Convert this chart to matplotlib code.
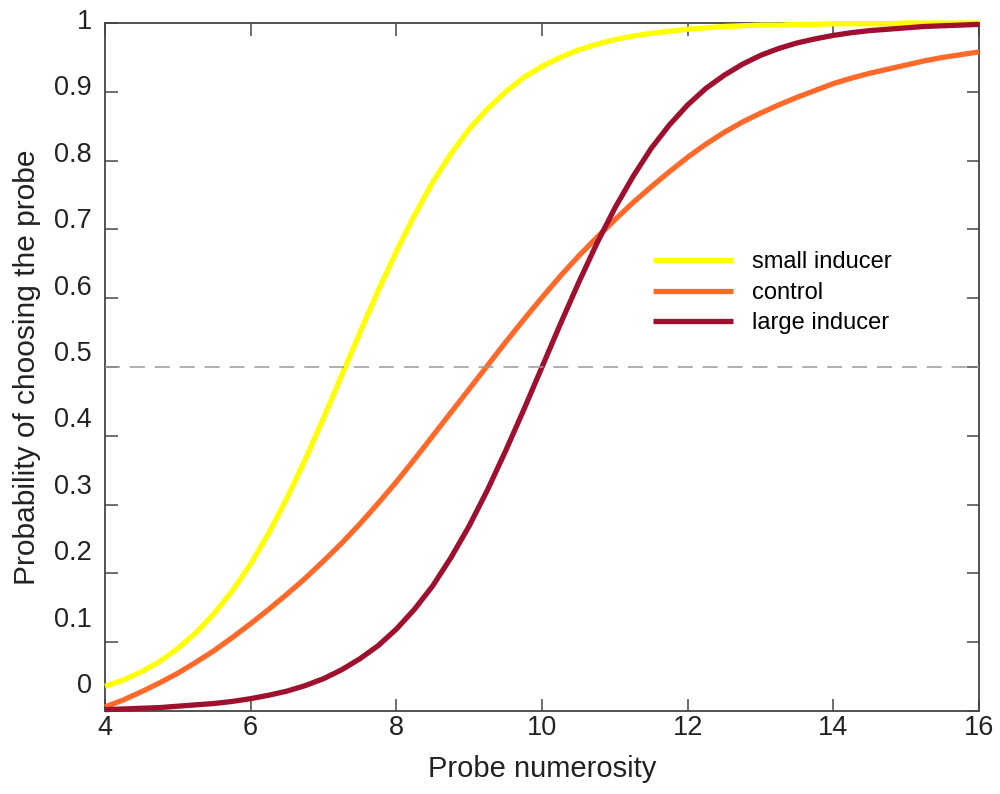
import matplotlib
matplotlib.use("Agg")
import matplotlib.pyplot as plt
import matplotlib.transforms as mtransforms

# probe numerosity sample points
numerosity = [4.0, 4.25, 4.5, 4.75, 5.0, 5.25, 5.5, 5.75, 6.0, 6.25, 6.5, 6.75,
              7.0, 7.25, 7.5, 7.75, 8.0, 8.25, 8.5, 8.75, 9.0, 9.25, 9.5, 9.75,
              10.0, 10.25, 10.5, 10.75, 11.0, 11.25, 11.5, 11.75, 12.0, 12.25,
              12.5, 12.75, 13.0, 13.25, 13.5, 13.75, 14.0, 14.25, 14.5, 14.75,
              15.0, 15.25, 15.5, 15.75, 16.0]

# probability of choosing the probe
small_inducer = [0.036, 0.045, 0.057, 0.072, 0.091, 0.114, 0.142, 0.175, 0.214,
                 0.259, 0.310, 0.366, 0.426, 0.488, 0.550, 0.611, 0.668, 0.721,
                 0.769, 0.810, 0.846, 0.875, 0.900, 0.921, 0.937, 0.950, 0.961,
                 0.969, 0.976, 0.981, 0.985, 0.988, 0.991, 0.993, 0.995, 0.996,
                 0.997, 0.997, 0.998, 0.998, 0.999, 0.999, 0.999, 0.999, 1.0,
                 1.0, 1.0, 1.0, 1.0]
control = [0.006, 0.016, 0.028, 0.041, 0.055, 0.071, 0.088, 0.107, 0.127,
           0.148, 0.170, 0.193, 0.218, 0.244, 0.272, 0.302, 0.333, 0.366,
           0.400, 0.434, 0.468, 0.502, 0.536, 0.569, 0.601, 0.632, 0.661,
           0.688, 0.714, 0.739, 0.762, 0.784, 0.805, 0.824, 0.841, 0.856,
           0.869, 0.881, 0.892, 0.902, 0.912, 0.920, 0.927, 0.933, 0.939,
           0.945, 0.950, 0.954, 0.958]
large_inducer = [0.002, 0.003, 0.004, 0.005, 0.007, 0.009, 0.011, 0.014, 0.018,
                 0.023, 0.029, 0.037, 0.047, 0.060, 0.076, 0.095, 0.119, 0.148,
                 0.182, 0.223, 0.269, 0.321, 0.378, 0.438, 0.500, 0.562, 0.622,
                 0.679, 0.731, 0.777, 0.818, 0.852, 0.881, 0.905, 0.924, 0.940,
                 0.953, 0.963, 0.971, 0.977, 0.982, 0.986, 0.989, 0.991, 0.993,
                 0.995, 0.996, 0.997, 0.998]

series_names = ["small inducer", "control", "large inducer"]
series_colors = ["#ffff00", "#ff6a2b", "#9e102e"]

xticks = [4, 6, 8, 10, 12, 14, 16]
yticks = [0, 0.1, 0.2, 0.3, 0.4, 0.5, 0.6, 0.7, 0.8, 0.9, 1]
ytick_labels = ["0", "0.1", "0.2", "0.3", "0.4", "0.5", "0.6", "0.7", "0.8", "0.9", "1"]

plt.rcParams["font.family"] = ["Liberation Sans", "DejaVu Sans"]

fig = plt.figure(figsize=(10, 7.94), dpi=100)
ax = fig.add_axes([0.105, 0.1045, 0.874, 0.8665])

for vals, name, col in zip([small_inducer, control, large_inducer], series_names, series_colors):
    ax.plot(numerosity, vals, color=col, lw=3.8, label=name, zorder=3,
            clip_on=False, solid_capstyle="butt", solid_joinstyle="round")

ax.axhline(0.5, color="#999999", lw=1.1, dashes=(9.8, 6.5), zorder=4)

ax.set_xlim(4, 16)
ax.set_ylim(0, 1)
ax.set_xticks(xticks)
ax.set_xticklabels([str(t) for t in xticks])
ax.set_yticks(yticks)
ax.set_yticklabels(ytick_labels)

ax.tick_params(axis="both", direction="in", length=9, width=1.2, color="#555555",
               labelsize=19.5, labelcolor="#222222", top=True, right=True)
ax.tick_params(axis="x", pad=3)
ax.tick_params(axis="y", pad=9.5)

# tick labels in the source sit a little above their ticks, more so near the bottom
for lab, v in zip(ax.get_yticklabels(), yticks):
    shift = (28 - 24 * v) / 100.0
    lab.set_transform(lab.get_transform() +
                      mtransforms.ScaledTranslation(0, shift, fig.dpi_scale_trans))

for sp in ax.spines.values():
    sp.set_color("#444444")
    sp.set_linewidth(1.3)

ax.set_xlabel("Probe numerosity", fontsize=21, color="#222222", labelpad=10)
ax.set_ylabel("Probability of choosing the probe", fontsize=21.5, color="#222222", labelpad=9)

leg = ax.legend(loc="center left", bbox_to_anchor=(0.653, 0.631),
                bbox_transform=fig.transFigure, frameon=False, fontsize=17,
                handlelength=3.4, handletextpad=0.8, labelspacing=0.36,
                borderpad=0, borderaxespad=0)
for line in leg.get_lines():
    line.set_linewidth(3.8)

fig.savefig("out.png", dpi=100)
